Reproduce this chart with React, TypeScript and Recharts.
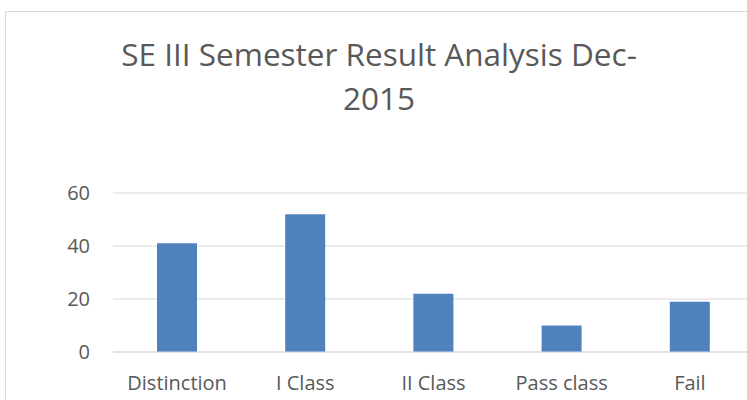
import React from 'react';
import { BarChart, Bar, XAxis, YAxis, CartesianGrid } from 'recharts';

const categories = ['Distinction', 'I Class', 'II Class', 'Pass class', 'Fail'];
const students = [41, 52, 22, 10, 19];
const yTicks = [0, 20, 40, 60];

const data = categories.map((name, i) => ({ name, value: students[i] }));

const FONT = '"Open Sans", Lato, sans-serif';
const TEXT = '#595959';
const GRID = '#d9d9d9';

export default function App() {
  return (
    <div style={{ position: 'absolute', left: 0, top: 0, width: 747, height: 400, overflow: 'hidden', background: '#fff' }}>
      <div
        style={{
          position: 'absolute',
          left: 5,
          top: 11,
          width: 760,
          height: 400,
          border: `1px solid ${GRID}`,
          fontFamily: FONT,
        }}
      >
        <div
          style={{
            position: 'absolute',
            left: 0,
            top: 20,
            width: 746,
            textAlign: 'center',
            color: TEXT,
            fontSize: 31.5,
            lineHeight: '44px',
          }}
        >
          SE III Semester Result Analysis Dec-
          <br />
          2015
        </div>
        <BarChart
          width={760}
          height={390}
          data={data}
          margin={{ top: 181, right: 12, bottom: 10, left: 0 }}
          barSize={40}
        >
          <CartesianGrid vertical={false} stroke={GRID} strokeWidth={1} />
          <XAxis
            dataKey="name"
            height={40}
            axisLine={{ stroke: GRID }}
            tickLine={false}
            tickMargin={18}
            tick={{ fill: TEXT, fontSize: 20, fontFamily: FONT }}
          />
          <YAxis
            width={107}
            domain={[0, 60]}
            ticks={yTicks}
            axisLine={false}
            tickLine={false}
            tickMargin={17}
            tick={{ fill: TEXT, fontSize: 20, fontFamily: FONT }}
          />
          <Bar dataKey="value" fill="#4f81bd" isAnimationActive={false} />
        </BarChart>
      </div>
    </div>
  );
}
